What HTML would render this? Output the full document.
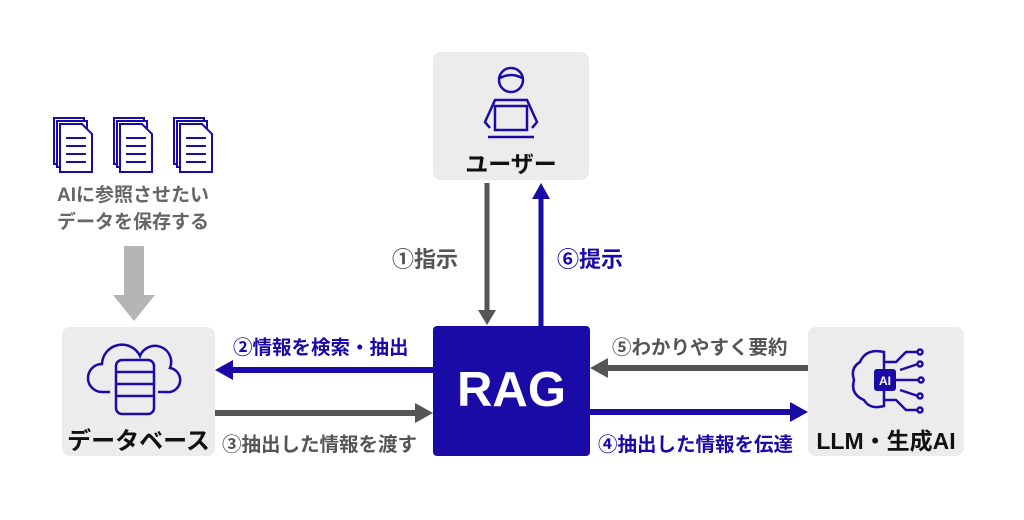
<!DOCTYPE html><html><head><meta charset="utf-8"><style>
body{margin:0;width:1024px;height:520px;background:#fff;position:relative;font-family:"Liberation Sans","Noto Sans CJK JP",sans-serif;overflow:hidden}
.box{position:absolute;background:#ececec;border-radius:8px}
.t{position:absolute;white-space:nowrap;font-weight:bold}
</style></head><body>
<div class="box" style="left:433px;top:52px;width:156px;height:128px"></div>
<div class="box" style="left:62px;top:327px;width:153px;height:129px"></div>
<div class="box" style="left:808px;top:327px;width:156px;height:129px"></div>
<div style="position:absolute;left:433px;top:326px;width:157px;height:130px;background:#1a0aa6;border-radius:4px"></div>
<div class="t" style="left:433px;top:362px;width:157px;text-align:center;color:#fff;font-size:49px">RAG</div>
<div class="t" style="left:433px;top:145px;width:156px;text-align:center;font-size:23px;color:#111">ユーザー</div>
<div class="t" style="left:62px;top:421px;width:153px;text-align:center;font-size:24px;color:#111">データベース</div>
<div class="t" style="left:808px;top:422px;width:156px;text-align:center;font-size:23px;color:#111">LLM・生成AI</div>
<div class="t" style="left:33px;top:182px;width:200px;text-align:center;font-size:19px;color:#666;line-height:27px">AIに参照させたい<br>データを保存する</div>
<div class="t" style="left:392px;top:242px;font-size:22px;color:#555">①指示</div>
<div class="t" style="left:557px;top:242px;font-size:22px;color:#1a0aa6">⑥提示</div>
<div class="t" style="left:233px;top:331px;font-size:19.5px;color:#1a0aa6">②情報を検索・抽出</div>
<div class="t" style="left:612px;top:331px;font-size:19.5px;color:#555">⑤わかりやすく要約</div>
<div class="t" style="left:222px;top:428px;font-size:19.5px;color:#555">③抽出した情報を渡す</div>
<div class="t" style="left:598px;top:428px;font-size:19.5px;color:#1a0aa6">④抽出した情報を伝達</div>
<svg width="1024" height="520" style="position:absolute;left:0;top:0">
<rect x="124" y="246" width="20" height="50" fill="#b5b5b5"/><polygon points="113,295 155,295 134,321" fill="#b5b5b5"/>
<rect x="484.5" y="183" width="5" height="128" fill="#555"/><polygon points="478,310 496,310 487,325" fill="#555"/>
<rect x="538.5" y="198" width="5" height="128" fill="#1a0aa6"/><polygon points="532,199 550,199 541,183" fill="#1a0aa6"/>
<rect x="232" y="367" width="201" height="6" fill="#1a0aa6"/><polygon points="233,360 233,380 215,370" fill="#1a0aa6"/>
<rect x="607" y="365" width="201" height="6" fill="#555"/><polygon points="608,358 608,378 590,368" fill="#555"/>
<rect x="215" y="410" width="201" height="6" fill="#555"/><polygon points="415,403 415,423 433,413" fill="#555"/>
<rect x="590" y="409" width="201" height="6" fill="#1a0aa6"/><polygon points="790,402 790,422 808,412" fill="#1a0aa6"/>
<g fill="#fff" stroke="#1a0aa6" stroke-width="2">
<g id="d"><rect x="54" y="118" width="30" height="46"/><rect x="57" y="121" width="30" height="46"/><path d="M60 124 h22 l10 10 v38 h-32z"/><path d="M66 138h20M66 146h20M66 154h20M66 162h20"/></g>
<use href="#d" x="60"/><use href="#d" x="120"/>
</g>
<g fill="none" stroke="#1a0aa6" stroke-width="2.5">
<circle cx="511" cy="80" r="12"/><path d="M500 78 q11 -6 22 0"/>
<path d="M490 128 l-5 -6 l10 -22 h32 l10 22 l-5 6"/><rect x="495" y="106" width="32" height="24"/><path d="M488 137h46"/>
</g>
<g fill="none" stroke="#1a0aa6" stroke-width="2.5">
<path d="M110 392 h-8 a14 14 0 0 1 0 -28 a20 20 0 0 1 38 -8 a16 16 0 0 1 30 12 a12 12 0 0 1 -4 24 h-8"/>
<rect x="116" y="360" width="38" height="54" rx="6" fill="#ececec"/><path d="M116 372h38M116 384h38M116 396h38"/>
</g>
<g fill="none" stroke="#1a0aa6" stroke-width="2.5">
<path d="M884 352 q-18 -4 -24 10 q-10 6 -6 18 q-4 14 10 20 q6 10 20 6z"/>
<path d="M884 362h12l10 -10h12M884 400h12l10 10h12M896 380h22M900 370l18 -6M900 390l18 6"/>
<circle cx="920" cy="352" r="2.5"/><circle cx="920" cy="410" r="2.5"/><circle cx="921" cy="380" r="2.5"/><circle cx="920" cy="364" r="2.5"/><circle cx="920" cy="396" r="2.5"/>
</g>
<rect x="874" y="369" width="22" height="22" rx="3" fill="#1a0aa6"/>
<text x="885" y="385" fill="#fff" font-size="12" font-weight="bold" text-anchor="middle" font-family="Liberation Sans">AI</text>
</svg>
</body></html>
